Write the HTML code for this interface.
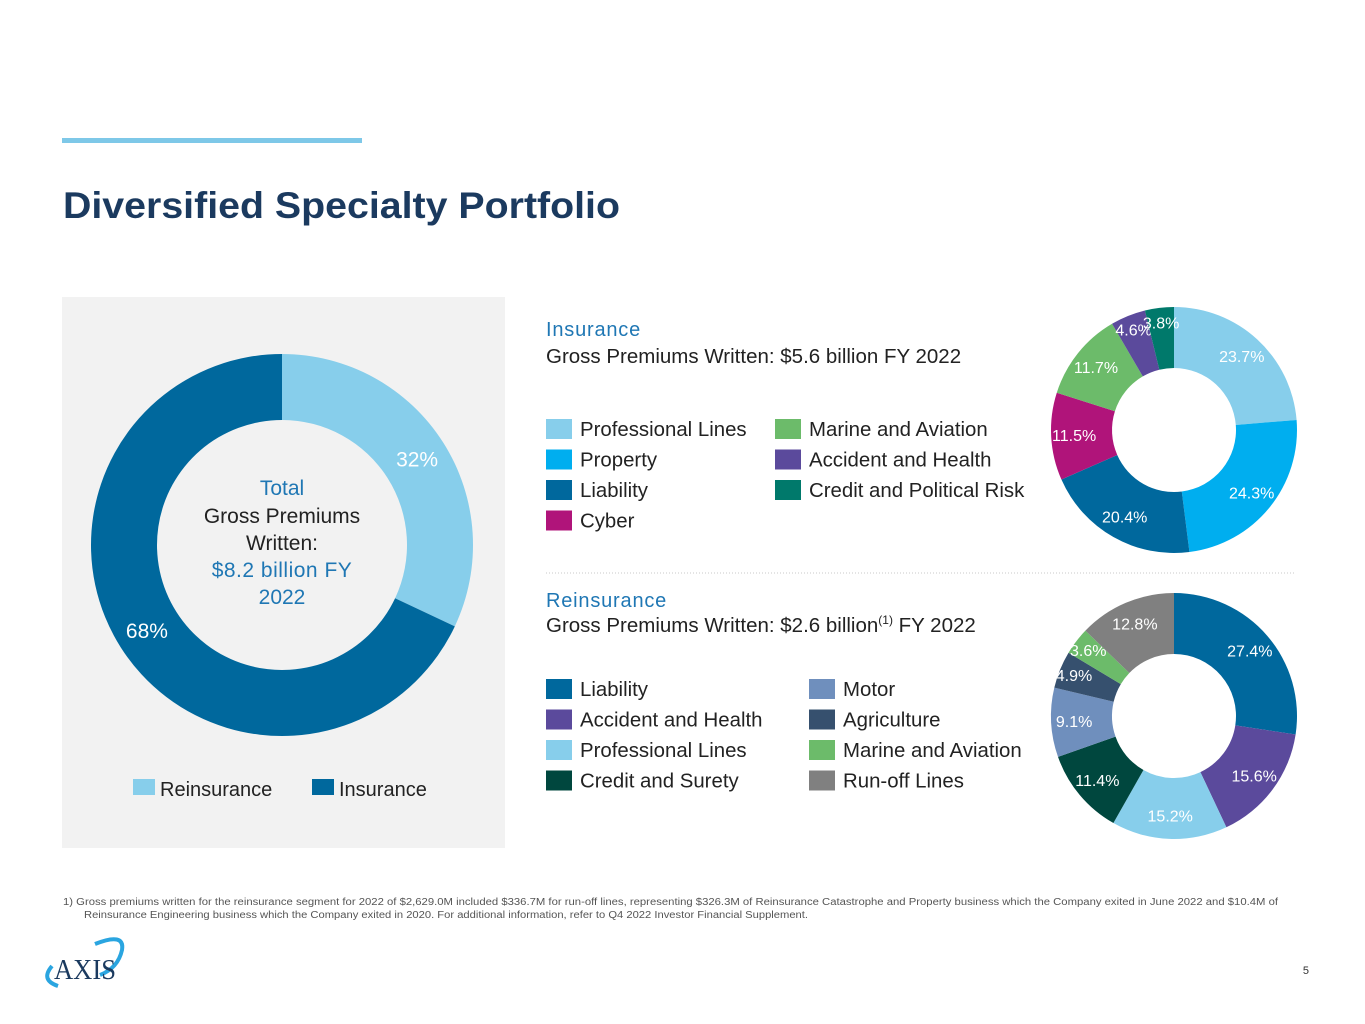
<!DOCTYPE html>
<html><head><meta charset="utf-8">
<style>
html,body{margin:0;padding:0;background:#fff;}
svg{display:block;font-family:"Liberation Sans",sans-serif;}
</style></head>
<body>
<svg id="root" width="1365" height="1024" viewBox="0 0 1365 1024" xmlns="http://www.w3.org/2000/svg">
<rect x="62" y="138" width="300" height="5" fill="#7ec8e8"/>
<text x="63" y="218" font-size="37" font-weight="bold" fill="#1b3a5f" textLength="557" lengthAdjust="spacingAndGlyphs">Diversified Specialty Portfolio</text>
<rect x="62" y="297" width="443" height="551" fill="#f2f2f2"/>
<g id="bigDonut"></g>
<text x="282" y="495" font-size="21" fill="#1f77b4" text-anchor="middle">Total</text>
<text x="282" y="523" font-size="21" fill="#222" text-anchor="middle">Gross Premiums</text>
<text x="282" y="550" font-size="21" fill="#222" text-anchor="middle">Written:</text>
<text x="282" y="577" font-size="21" fill="#1f77b4" text-anchor="middle" letter-spacing="0.5">$8.2 billion FY</text>
<text x="282" y="604" font-size="21" fill="#1f77b4" text-anchor="middle">2022</text>
<rect x="133" y="779" width="22" height="16" fill="#87ceeb"/>
<text x="160" y="796" font-size="20" fill="#222">Reinsurance</text>
<rect x="312" y="779" width="22" height="16" fill="#00689d"/>
<text x="339" y="796" font-size="20" fill="#222">Insurance</text>

<text x="546" y="336" font-size="20" fill="#1f77b4" letter-spacing="0.8">Insurance</text>
<text x="546" y="363" font-size="20.5" fill="#222">Gross Premiums Written: $5.6 billion FY 2022</text>
<g id="insLegend"></g>
<g id="insDonut"></g>
<line x1="546" y1="573" x2="1296" y2="573" stroke="#c8c8c8" stroke-width="1" stroke-dasharray="1 2"/>
<text x="546" y="607" font-size="20" fill="#1f77b4" letter-spacing="0.8">Reinsurance</text>
<text x="546" y="632" font-size="20.5" fill="#222">Gross Premiums Written: $2.6 billion<tspan font-size="12" dy="-8">(1)</tspan><tspan dy="8"> FY 2022</tspan></text>
<g id="reLegend"></g>
<g id="reDonut"></g>

<text x="63" y="905" font-size="10" fill="#555" textLength="1215" lengthAdjust="spacingAndGlyphs">1)   Gross premiums written for the reinsurance segment for 2022 of $2,629.0M included $336.7M for run-off lines, representing $326.3M of Reinsurance Catastrophe and Property business which the Company exited in June 2022 and $10.4M of</text>
<text x="84" y="918" font-size="10" fill="#555" textLength="724" lengthAdjust="spacingAndGlyphs">Reinsurance Engineering business which the Company exited in 2020. For additional information, refer to Q4 2022 Investor Financial Supplement.</text>
<g>
<path d="M58 986 Q40 980 52 966" stroke="#2aa5e0" stroke-width="4" fill="none"/>
<path d="M95 944 Q125 932 122 950 Q118 968 100 975" stroke="#2aa5e0" stroke-width="4" fill="none"/>
<text x="54" y="979" font-size="28" fill="#1b3a5f" font-family="Liberation Serif,serif" textLength="62" lengthAdjust="spacingAndGlyphs">AXIS</text>
</g>
<text x="1309" y="974" font-size="11" fill="#333" text-anchor="end">5</text>
</svg>
<script>
const totalLabels=["Reinsurance","Insurance"];
const totalValues=[32,68];
const totalColors=["#87ceeb","#00689d"];
const insLabels=["Professional Lines","Property","Liability","Cyber","Marine and Aviation","Accident and Health","Credit and Political Risk"];
const insValues=[23.7,24.3,20.4,11.5,11.7,4.6,3.8];
const insColors=["#87ceeb","#00aeef","#00689d","#b0147a","#6cbb6a","#5b4a9c","#00796b"];
const reLabels=["Liability","Accident and Health","Professional Lines","Credit and Surety","Motor","Agriculture","Marine and Aviation","Run-off Lines"];
const reValues=[27.4,15.6,15.2,11.4,9.1,4.9,3.6,12.8];
const reColors=["#00689d","#5b4a9c","#87ceeb","#00473e","#6f8fbd","#36506e","#6cbb6a","#808080"];
const NS="http://www.w3.org/2000/svg";
function pt(cx,cy,r,a){return [cx+r*Math.sin(a),cy-r*Math.cos(a)];}
function donut(gid,vals,cols,names,cx,cy,ro,ri,lr,fs,fmt){
  const g=document.getElementById(gid);
  const tot=vals.reduce((a,b)=>a+b,0);
  let a0=0;
  vals.forEach((v,i)=>{
    const a1=a0+v/tot*2*Math.PI;
    const [x0,y0]=pt(cx,cy,ro,a0),[x1,y1]=pt(cx,cy,ro,a1),[x2,y2]=pt(cx,cy,ri,a1),[x3,y3]=pt(cx,cy,ri,a0);
    const lg=(a1-a0)>Math.PI?1:0;
    const p=document.createElementNS(NS,"path");
    p.setAttribute("d",`M${x0} ${y0}A${ro} ${ro} 0 ${lg} 1 ${x1} ${y1}L${x2} ${y2}A${ri} ${ri} 0 ${lg} 0 ${x3} ${y3}Z`);
    p.setAttribute("fill",cols[i]);
    
    
    g.appendChild(p);
    const frac=v/tot;
    const r=frac<0.06?lr+8:lr;
    const [lx,ly]=pt(cx,cy,r,(a0+a1)/2);
    const t=document.createElementNS(NS,"text");
    t.setAttribute("x",lx);t.setAttribute("y",ly+fs*0.35);
    t.setAttribute("text-anchor","middle");t.setAttribute("font-size",fs);
    t.setAttribute("fill","#fff");
    t.textContent=fmt(v);
    
    
    g.appendChild(t);
    a0=a1;
  });
}
donut("bigDonut",totalValues,totalColors,totalLabels,282,545,191,125,160,21,v=>v+"%");
donut("insDonut",insValues,insColors,insLabels,1174,430,123,62,100,16,v=>v.toFixed(1)+"%");
donut("reDonut",reValues,reColors,reLabels,1174,716,123,62,100,16,v=>v.toFixed(1)+"%");
function legend(gid,labels,cols,x0,x1,y0,perCol){
  const g=document.getElementById(gid);
  labels.forEach((l,i)=>{
    const c=Math.floor(i/perCol),r=i%perCol;
    const x=c?x1:x0,y=y0+r*30.5;
    const s=document.createElementNS(NS,"rect");
    s.setAttribute("x",x);s.setAttribute("y",y);s.setAttribute("width",26);s.setAttribute("height",20);s.setAttribute("fill",cols[i]);
    
    
    g.appendChild(s);
    const t=document.createElementNS(NS,"text");
    t.setAttribute("x",x+34);t.setAttribute("y",y+17);t.setAttribute("font-size",20.4);t.setAttribute("fill","#222");
    t.textContent=l;
    
    
    g.appendChild(t);
  });
}
legend("insLegend",insLabels,insColors,546,775,419,4);
legend("reLegend",reLabels,reColors,546,809,679,4);
</script>
</body></html>
